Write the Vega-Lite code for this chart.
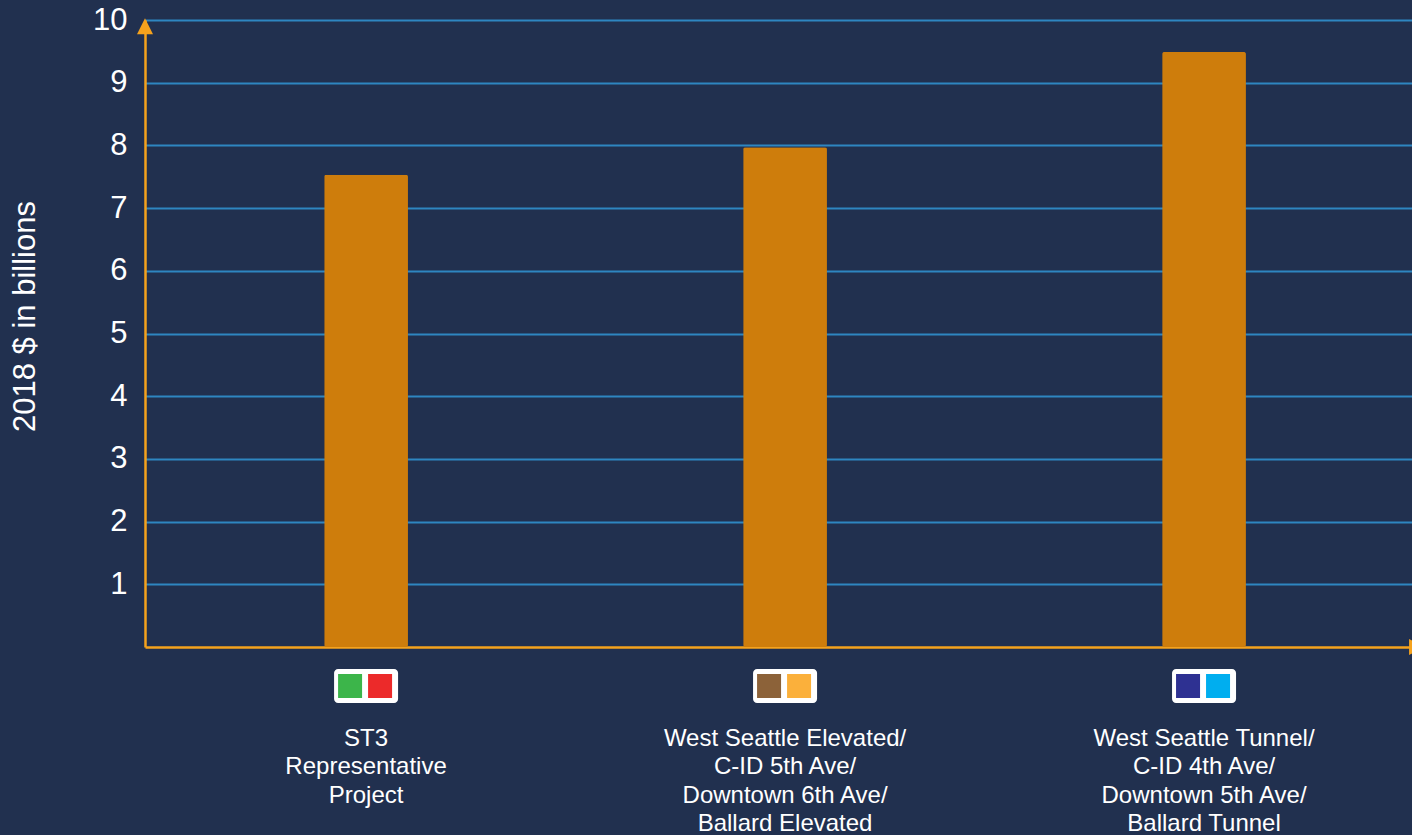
{
  "$schema": "https://vega.github.io/schema/vega-lite/v6.json",
  "width": 1267,
  "height": 627,
  "autosize": "none",
  "padding": {"left": 145, "top": 20, "right": 0, "bottom": 188},
  "background": "#21304F",
  "config": {"view": {"stroke": null}, "font": "Liberation Sans"},
  "datasets": {
    "bars": [
      {"project": "ST3|Representative|Project", "cost": 7.53},
      {"project": "West Seattle Elevated/|C-ID 5th Ave/|Downtown 6th Ave/|Ballard Elevated", "cost": 7.97},
      {"project": "West Seattle Tunnel/|C-ID 4th Ave/|Downtown 5th Ave/|Ballard Tunnel", "cost": 9.49}
    ],
    "swatches": [
      {"project": "ST3|Representative|Project", "side": "L", "swatch": "green"},
      {"project": "ST3|Representative|Project", "side": "R", "swatch": "red"},
      {"project": "West Seattle Elevated/|C-ID 5th Ave/|Downtown 6th Ave/|Ballard Elevated", "side": "L", "swatch": "brown"},
      {"project": "West Seattle Elevated/|C-ID 5th Ave/|Downtown 6th Ave/|Ballard Elevated", "side": "R", "swatch": "orange"},
      {"project": "West Seattle Tunnel/|C-ID 4th Ave/|Downtown 5th Ave/|Ballard Tunnel", "side": "L", "swatch": "navy"},
      {"project": "West Seattle Tunnel/|C-ID 4th Ave/|Downtown 5th Ave/|Ballard Tunnel", "side": "R", "swatch": "cyan"}
    ]
  },
  "layer": [
    {
      "layer": [
        {
          "data": {"name": "bars"},
          "mark": {"type": "bar", "color": "#CE7D0C", "cornerRadius": 2},
          "encoding": {
            "x": {
              "field": "project", "type": "nominal", "sort": null,
              "scale": {"paddingInner": 0.8, "paddingOuter": 0.412, "align": 0.519},
              "axis": {
                "title": null, "labelExpr": "split(datum.label, '|')", "labelAngle": 0,
                "labelFontSize": 24, "labelLineHeight": 28.5, "labelColor": "white",
                "labelPadding": 79, "ticks": false, "tickSize": 0, "labelBaseline": "top",
                "domainColor": "#F5A21D", "domainWidth": 2.5, "grid": false, "labelLimit": 500,
                "labelOverlap": false, "labelBound": false, "labelFont": "Liberation Sans"
              }
            },
            "y": {
              "field": "cost", "type": "quantitative",
              "scale": {"domain": [0, 10], "nice": false, "zero": true},
              "axis": {
                "title": "2018 $ in billions", "values": [1, 2, 3, 4, 5, 6, 7, 8, 9, 10], "format": "d",
                "grid": true, "gridColor": "#2E86C1", "gridWidth": 2,
                "domainColor": "#F5A21D", "domainWidth": 2.5, "ticks": false, "tickSize": 0,
                "labelFontSize": 31, "labelColor": "white", "labelPadding": 18,
                "labelFont": "Liberation Sans", "titleFont": "Liberation Sans",
                "titleFontSize": 31, "titleFontWeight": "normal", "titleColor": "white",
                "titlePadding": 51, "titleY": 296, "labelOverlap": false, "labelBound": false
              }
            }
          }
        },
        {
          "data": {"name": "bars"},
          "mark": {"type": "bar", "color": "white", "width": 64, "cornerRadius": 4},
          "encoding": {
            "x": {"field": "project", "type": "nominal", "sort": null},
            "y": {"datum": -0.351, "type": "quantitative"},
            "y2": {"datum": -0.893}
          }
        },
        {
          "data": {"name": "swatches"},
          "transform": [{"filter": "datum.side === 'L'"}],
          "mark": {"type": "point", "shape": "square", "filled": true, "size": 576, "opacity": 1, "strokeWidth": 0, "xOffset": -16},
          "encoding": {
            "x": {"field": "project", "type": "nominal", "sort": null},
            "y": {"datum": -0.622, "type": "quantitative"},
            "color": {
              "field": "swatch", "type": "nominal", "legend": null,
              "scale": {
                "domain": ["green", "red", "brown", "orange", "navy", "cyan"],
                "range": ["#3CB54A", "#EC2A2A", "#8C6239", "#FBB03B", "#2E3192", "#00AEEF"]
              }
            }
          }
        },
        {
          "data": {"name": "swatches"},
          "transform": [{"filter": "datum.side === 'R'"}],
          "mark": {"type": "point", "shape": "square", "filled": true, "size": 576, "opacity": 1, "strokeWidth": 0, "xOffset": 14},
          "encoding": {
            "x": {"field": "project", "type": "nominal", "sort": null},
            "y": {"datum": -0.622, "type": "quantitative"},
            "color": {"field": "swatch", "type": "nominal", "legend": null}
          }
        }
      ]
    },
    {
      "data": {"values": [{}]},
      "mark": {"type": "point", "shape": "M0,-1L1,1L-1,1Z", "filled": true, "size": 256, "color": "#F5A21D", "opacity": 1, "strokeWidth": 0},
      "encoding": {
        "x": {"datum": 0, "type": "quantitative", "scale": {"domain": [0, 1]}, "axis": null},
        "y": {"datum": 9.9, "type": "quantitative"}
      }
    },
    {
      "data": {"values": [{}]},
      "mark": {"type": "point", "shape": "M1,0L-1,-1L-1,1Z", "filled": true, "size": 256, "color": "#F5A21D", "opacity": 1, "strokeWidth": 0},
      "encoding": {
        "x": {"datum": 1.004, "type": "quantitative", "scale": {"domain": [0, 1]}, "axis": null},
        "y": {"datum": 0, "type": "quantitative"}
      }
    }
  ],
  "resolve": {"scale": {"x": "independent"}}
}
